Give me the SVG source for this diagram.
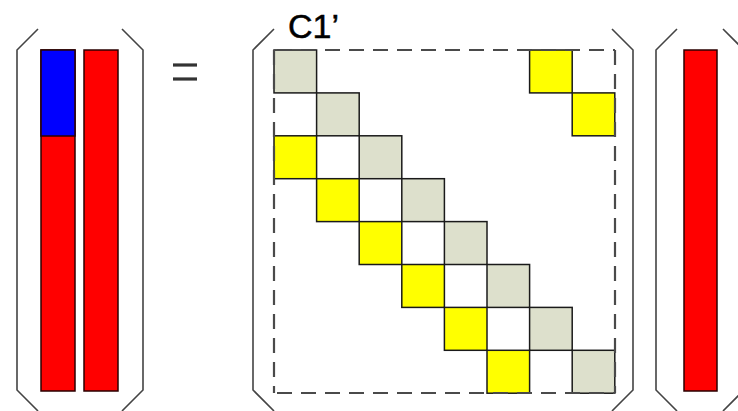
<svg xmlns="http://www.w3.org/2000/svg" width="738" height="411" viewBox="0 0 738 411">
  <style>
    .bracket { fill: none; stroke: #444; stroke-width: 1.6; stroke-linejoin: miter; }
    .bar { stroke: #2a0000; stroke-width: 1.5; }
    .red { fill: #ff0000; }
    .blue { fill: #0000ff; }
    .cell { stroke: #1a1a1a; stroke-width: 1.5; }
    .diag { fill: #dde0cc; }
    .off { fill: #ffff00; }
    .dash { fill: none; stroke: #4a4a4a; stroke-width: 2.2; stroke-dasharray: 15 9; }
    .eq { stroke: #333; stroke-width: 3.2; }
    .label { font-family: "Liberation Sans", Arial, sans-serif; font-size: 34px; fill: #000; stroke: #000; stroke-width: 0.5; }
  </style>
  <rect width="738" height="411" fill="#fff"/>

  <!-- left-hand side: two column vectors -->
  <g id="lhs">
    <path class="bracket" d="M38,29 L17,50 L17,390 L38,411"/>
    <path class="bracket" d="M122,29 L143,50 L143,390 L122,411"/>
    <rect class="bar red" x="41" y="50" width="34" height="341"/>
    <rect class="bar blue" x="41" y="50" width="34" height="86"/>
    <rect class="bar red" x="84" y="50" width="34" height="341"/>
  </g>

  <!-- equals sign -->
  <g id="equals">
    <line class="eq" x1="173" y1="65" x2="197" y2="65"/>
    <line class="eq" x1="173" y1="79" x2="197" y2="79"/>
  </g>

  <!-- C1' block matrix: 8x8 grid, cell 42.6 x 42.9 from (274,50) -->
  <g id="c1-matrix">
    <path class="bracket" d="M274,29 L253,50 L253,390 L274,411"/>
    <path class="bracket" d="M612,29 L633,50 L633,390 L612,411"/>
    <text class="label" x="288" y="38">C1’</text>
    <g id="diagonal">
      <rect class="cell diag" x="274" y="50" width="42.6" height="42.9"/>
      <rect class="cell diag" x="316.6" y="92.9" width="42.6" height="42.9"/>
      <rect class="cell diag" x="359.2" y="135.8" width="42.6" height="42.9"/>
      <rect class="cell diag" x="401.8" y="178.7" width="42.6" height="42.9"/>
      <rect class="cell diag" x="444.4" y="221.6" width="42.6" height="42.9"/>
      <rect class="cell diag" x="487" y="264.5" width="42.6" height="42.9"/>
      <rect class="cell diag" x="529.6" y="307.4" width="42.6" height="42.9"/>
      <rect class="cell diag" x="572.2" y="350.3" width="42.6" height="42.9"/>
    </g>
    <g id="off-diagonal">
      <rect class="cell off" x="274" y="135.8" width="42.6" height="42.9"/>
      <rect class="cell off" x="316.6" y="178.7" width="42.6" height="42.9"/>
      <rect class="cell off" x="359.2" y="221.6" width="42.6" height="42.9"/>
      <rect class="cell off" x="401.8" y="264.5" width="42.6" height="42.9"/>
      <rect class="cell off" x="444.4" y="307.4" width="42.6" height="42.9"/>
      <rect class="cell off" x="487" y="350.3" width="42.6" height="42.9"/>
      <rect class="cell off" x="529.6" y="50" width="42.6" height="42.9"/>
      <rect class="cell off" x="572.2" y="92.9" width="42.6" height="42.9"/>
    </g>
    <g id="frame">
      <line class="dash" x1="277" y1="50" x2="615" y2="50"/>
      <line class="dash" x1="615" y1="50" x2="615" y2="393"/>
      <line class="dash" x1="274" y1="50" x2="274" y2="393"/>
      <line class="dash" x1="277" y1="393" x2="615" y2="393"/>
    </g>
  </g>

  <!-- right-hand side: single column vector -->
  <g id="rhs-vector">
    <path class="bracket" d="M677,29 L656,50 L656,390 L677,411"/>
    <path class="bracket" d="M723,29 L744,50 L744,390 L723,411"/>
    <rect class="bar red" x="684" y="50" width="33" height="341"/>
  </g>
</svg>
